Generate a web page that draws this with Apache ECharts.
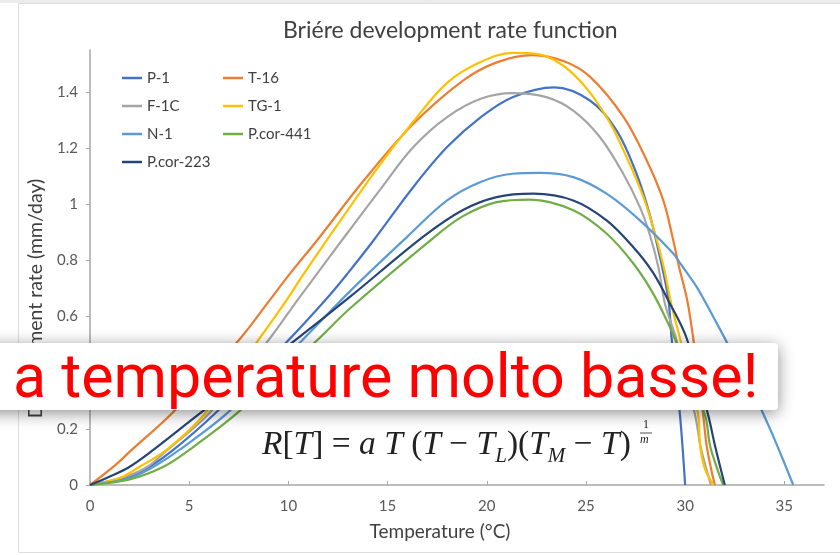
<!DOCTYPE html>
<html>
<head>
<meta charset="utf-8">
<script src="https://cdn.jsdelivr.net/npm/echarts@6/dist/echarts.min.js"></script>
<style>
  html, body { margin: 0; padding: 0; background: #fff; }
  #chart { width: 840px; height: 555px; }
</style>
</head>
<body>
<div id="chart"></div>
<script>
// axis ticks
const xTicks = [0, 5, 10, 15, 20, 25, 30, 35];
const yTicks = [0, 0.2, 0.4, 0.6, 0.8, 1, 1.2, 1.4];

// curves: [temperature, rate]
const p1 = [[0,0],[2.0,0.03],[3.0,0.065],[4.2,0.125],[6.3,0.255],[10.0,0.516],[12.0,0.67],[13.0,0.755],[14.3,0.872],[16.3,1.062],[18.0,1.204],[19.7,1.311],[21.3,1.382],[23.4,1.417],[25.2,1.370],[26.55,1.263],[27.55,1.109],[28.2,0.967],[28.73,0.812],[29.15,0.664],[29.32,0.522],[29.74,0.249],[30.0,0]];
const t16 = [[0,0],[1.26,0.07],[2.1,0.125],[4.2,0.26],[7.5,0.516],[9.05,0.658],[10.08,0.753],[11.45,0.872],[13.8,1.085],[16.3,1.287],[18.8,1.441],[20.5,1.506],[22.3,1.532],[23.9,1.51],[25.2,1.455],[26.9,1.311],[28.06,1.157],[28.9,1.014],[29.4,0.872],[29.7,0.775],[30.1,0.66],[30.41,0.522],[30.91,0.249],[31.08,0.142],[31.34,0.047],[31.5,0]];
const f1c = [[0,0],[1.8,0.03],[2.9,0.065],[3.9,0.125],[6.0,0.255],[9.0,0.516],[10.45,0.658],[11.45,0.753],[12.7,0.872],[14.6,1.050],[16.3,1.204],[18.0,1.311],[19.7,1.376],[21.3,1.396],[23.0,1.382],[24.36,1.334],[25.7,1.240],[26.88,1.109],[27.72,0.990],[28.2,0.896],[28.65,0.777],[28.98,0.647],[29.55,0.52],[30.5,0.25],[30.8,0.13],[31.3,0]];
const tg1 = [[0,0],[1.5,0.025],[2.5,0.065],[3.86,0.125],[5.8,0.255],[8.48,0.516],[9.9,0.658],[10.78,0.753],[11.93,0.872],[14.6,1.14],[16.3,1.295],[18.0,1.433],[19.66,1.506],[21.3,1.540],[22.6,1.535],[24.36,1.465],[26.04,1.311],[27.05,1.168],[27.9,1.026],[28.48,0.896],[28.9,0.783],[29.32,0.64],[29.74,0.522],[30.66,0.249],[30.75,0.142],[30.99,0.059],[31.42,0]];
const n1 = [[0,0],[2.0,0.025],[3.2,0.065],[4.5,0.125],[6.9,0.255],[10.7,0.516],[13.1,0.69],[16.0,0.885],[18.0,1.014],[19.66,1.079],[21.3,1.109],[22.68,1.112],[24.36,1.097],[26.04,1.038],[27.72,0.943],[29.4,0.825],[29.82,0.783],[30.58,0.706],[31.42,0.599],[32.09,0.51],[33.93,0.255],[35.45,0]];
const pcor441 = [[0,0],[2.0,0.02],[3.7,0.065],[5.0,0.125],[7.4,0.255],[11.45,0.516],[13.1,0.629],[17.3,0.88],[18.8,0.958],[20.5,1.008],[22.2,1.017],[24.36,0.979],[26.04,0.896],[27.38,0.79],[28.39,0.682],[29.23,0.563],[29.4,0.535],[31.0,0.249],[31.25,0.142],[31.67,0.047],[31.92,0]];
const pcor223 = [[0,0],[1.0,0.03],[2.0,0.065],[3.19,0.125],[5.54,0.255],[10.35,0.516],[13.1,0.67],[16.8,0.885],[18.8,0.98],[20.5,1.026],[22.35,1.038],[24.36,1.014],[26.04,0.943],[27.38,0.848],[28.35,0.76],[29.23,0.647],[30.08,0.522],[31.16,0.249],[31.5,0.142],[32.0,0]];

const names = ['P-1', 'T-16', 'F-1C', 'TG-1', 'N-1', 'P.cor-441', 'P.cor-223'];
const values = [p1, t16, f1c, tg1, n1, pcor441, pcor223];
const colors = ['#4472C4', '#ED7D31', '#A5A5A5', '#FFC000', '#5B9BD5', '#70AD47', '#264478'];

const font = 'Lato';
const serif = 'Liberation Serif';

const chart = echarts.init(document.getElementById('chart'));

const legendBase = {
  orient: 'vertical',
  top: 64,
  icon: 'rect',
  itemWidth: 20,
  itemHeight: 2.5,
  itemGap: 10,
  selectedMode: false,
  textStyle: { fontFamily: font, fontSize: 15, lineHeight: 18, color: '#404040' }
};

chart.setOption({
  animation: false,
  title: {
    text: 'Briére development rate function',
    left: 278,
    top: 14,
    textStyle: { fontFamily: font, fontSize: 23, fontWeight: 'normal', color: '#404040' }
  },
  legend: [
    Object.assign({ left: 117, data: ['P-1', 'F-1C', 'N-1', 'P.cor-223'] }, legendBase),
    Object.assign({ left: 218, data: ['T-16', 'TG-1', 'P.cor-441'] }, legendBase)
  ],
  grid: { left: 90, right: 16, top: 50, bottom: 70 },
  xAxis: {
    type: 'value',
    min: 0,
    max: 37,
    interval: 5,
    name: 'Temperature (°C)',
    nameLocation: 'middle',
    nameGap: 37,
    nameTextStyle: { fontFamily: font, fontSize: 19, color: '#404040', padding: [0, 34, 0, 0] },
    axisLine: { lineStyle: { color: '#a6a6a6', width: 1.5 } },
    axisTick: { inside: true, length: 4, customValues: xTicks, lineStyle: { color: '#a6a6a6' } },
    axisLabel: { customValues: xTicks, fontFamily: font, fontSize: 15, color: '#595959', margin: 14 },
    splitLine: { show: false }
  },
  yAxis: {
    type: 'value',
    min: 0,
    max: 1.55,
    interval: 0.2,
    name: 'Development rate (mm/day)',
    nameLocation: 'middle',
    nameGap: 42,
    nameTextStyle: { fontFamily: font, fontSize: 19.5, color: '#404040', padding: [0, 62, 0, 0] },
    axisLine: { show: true, lineStyle: { color: '#a6a6a6', width: 1.5 } },
    axisTick: { show: true, length: 4, customValues: yTicks, lineStyle: { color: '#a6a6a6' } },
    axisLabel: { customValues: yTicks, fontFamily: font, fontSize: 15, color: '#595959', margin: 12 },
    splitLine: { show: false }
  },
  series: names.map((n, i) => ({
    name: n,
    type: 'line',
    data: values[i],
    smooth: 0.35,
    showSymbol: false,
    symbol: 'none',
    color: colors[i],
    lineStyle: { width: 2.2, color: colors[i] }
  })),
  graphic: [
    // frame of the slide
    { type: 'rect', z: 1, silent: true, shape: { x: 0, y: 0, width: 840, height: 3 }, style: { fill: '#ececec' } },
    { type: 'rect', z: 1, silent: true, shape: { x: 18.5, y: 3.5, width: 840, height: 549 }, style: { fill: null, stroke: '#dedede', lineWidth: 1 } },
    // formula
    {
      type: 'text', z: 50, left: 262, top: 428,
      style: {
        text: '{i|R}{r|[}{i|T}{r|] = }{i|a T }{r|(}{i|T}{r| − }{i|T}{s|L}{r|)(}{i|T}{s|M}{r| − }{i|T}{r|)}',
        rich: {
          i: { fontFamily: serif, fontStyle: 'italic', fontSize: 33.5, lineHeight: 44, fill: '#222' },
          r: { fontFamily: serif, fontSize: 33.5, lineHeight: 44, fill: '#222' },
          s: { fontFamily: serif, fontStyle: 'italic', fontSize: 21, lineHeight: 20, verticalAlign: 'bottom', fill: '#222' }
        }
      }
    },
    { type: 'text', z: 50, left: 643, top: 419, style: { text: '1', fontFamily: serif, fontSize: 12, fill: '#222' } },
    { type: 'line', z: 50, shape: { x1: 640, y1: 433, x2: 652, y2: 433 }, style: { stroke: '#222', lineWidth: 0.8 } },
    { type: 'text', z: 50, left: 640, top: 434, style: { text: 'm', fontFamily: serif, fontStyle: 'italic', fontSize: 12, fill: '#222' } },
    // banner over the chart
    {
      type: 'rect', z: 100,
      shape: { x: -20, y: 343, width: 798, height: 67, r: 4 },
      style: { fill: '#ffffff', shadowBlur: 16, shadowColor: 'rgba(0,0,0,0.45)', shadowOffsetY: 3 }
    },
    {
      type: 'text', z: 101,
      style: { x: 13, y: 382, verticalAlign: 'middle', text: 'a temperature molto basse!', fontFamily: 'Roboto', fontSize: 61, fill: '#ff0000' }
    }
  ]
});
</script>
</body>
</html>
